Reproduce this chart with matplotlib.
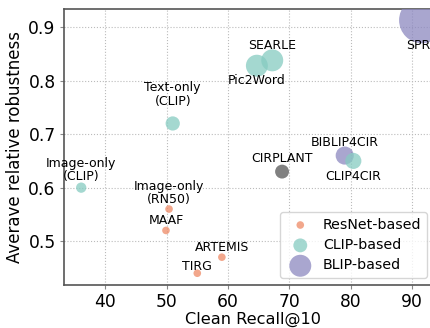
import matplotlib.pyplot as plt

# method data: (clean recall@10, avg relative robustness)
names = ['Image-only\n(CLIP)', 'Text-only\n(CLIP)', 'Image-only\n(RN50)', 'MAAF', 'TIRG',
         'ARTEMIS', 'CIRPLANT', 'Pic2Word', 'SEARLE', 'BIBLIP4CIR', 'CLIP4CIR', 'SPRC']
recall = [36.1, 51.0, 50.4, 49.9, 55.0, 59.0, 68.8, 64.7, 67.2, 79.0, 80.4, 91.6]
robust = [0.600, 0.720, 0.560, 0.520, 0.440, 0.470, 0.630, 0.828, 0.838, 0.660, 0.650, 0.913]
sizes = [55, 105, 30, 30, 30, 30, 100, 250, 250, 170, 135, 1100]
groups = ['clip', 'clip', 'resnet', 'resnet', 'resnet', 'resnet', 'other', 'clip', 'clip',
          'blip', 'clip', 'blip']
# label offset (points) relative to marker centre
label_dy = [12.6, 21, 11.5, 7, 5, 7, 9.4, -11, 11, 9.4, -11.5, -18]

colors = {'resnet': '#EE8A66', 'clip': '#86CBC1', 'blip': '#8C88C0', 'other': '#555555'}

fig = plt.figure(figsize=(4.31, 3.28), dpi=100)
ax = fig.add_axes([64/431, 43/328, 379/431, 276/328])

for x, y, s, g in zip(recall, robust, sizes, groups):
    ax.scatter(x, y, s=s, color=colors[g], alpha=0.75, edgecolors='none', zorder=3)

for n, x, y, dy in zip(names, recall, robust, label_dy):
    ax.annotate(n, (x, y), xytext=(0, dy), textcoords='offset points',
                ha='center', va='center', fontsize=9, zorder=4, linespacing=1.05)

ax.set_xlim(33.3, 95)
ax.set_ylim(0.418, 0.934)
ax.set_xticks([40, 50, 60, 70, 80, 90])
ax.set_yticks([0.5, 0.6, 0.7, 0.8, 0.9])
ax.tick_params(labelsize=12.3, length=3, width=0.8, color='#888888', pad=3)
ax.grid(True, linestyle=':', color='#bbbbbb', linewidth=0.8)
ax.set_axisbelow(True)
for sp in ax.spines.values():
    sp.set_color('#555555')
    sp.set_linewidth(1.2)

ax.set_xlabel('Clean Recall@10', fontsize=11.6, labelpad=0.5)
ax.set_ylabel('Averave relative robustness', fontsize=12, labelpad=3)

h1 = ax.scatter([], [], s=30, color=colors['resnet'], alpha=0.75, edgecolors='none')
h2 = ax.scatter([], [], s=100, color=colors['clip'], alpha=0.75, edgecolors='none')
h3 = ax.scatter([], [], s=250, color=colors['blip'], alpha=0.75, edgecolors='none')
fig.legend([h1, h2, h3], ['ResNet-based', 'CLIP-based', 'BLIP-based'],
           loc='lower right', bbox_to_anchor=(0.991, 0.152), fontsize=10.2,
           labelspacing=0.45, borderpad=0.4, handletextpad=0.6, borderaxespad=0)

fig.savefig('out.png', dpi=100)
